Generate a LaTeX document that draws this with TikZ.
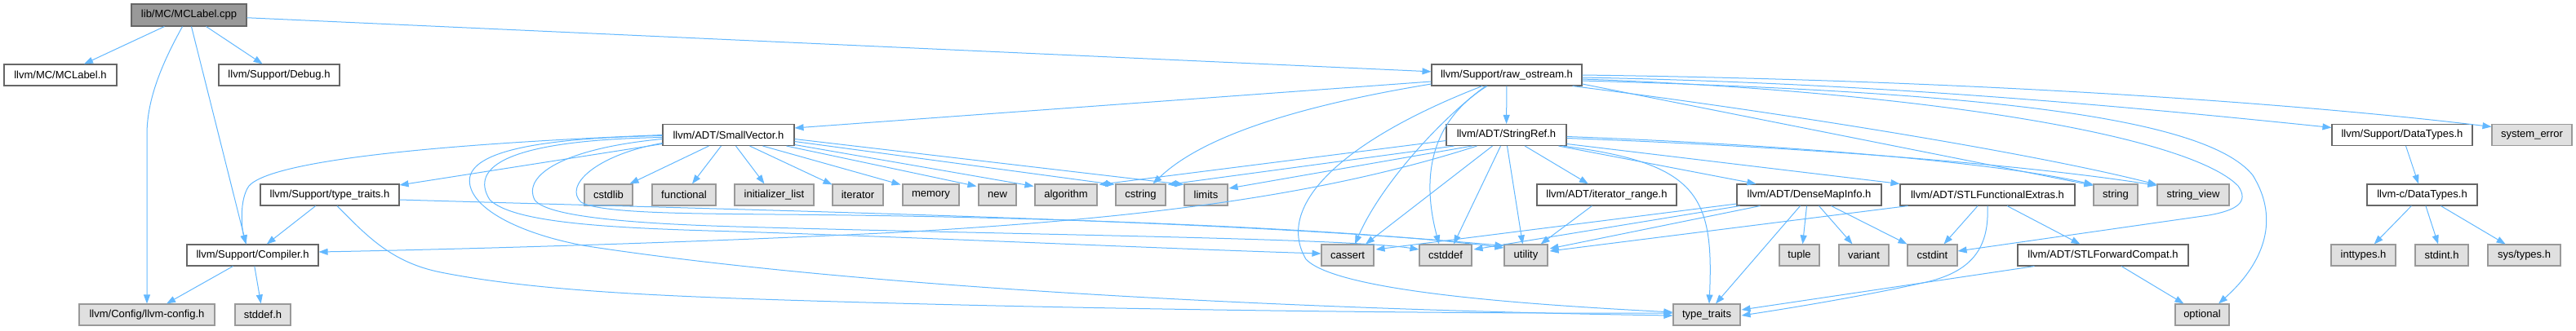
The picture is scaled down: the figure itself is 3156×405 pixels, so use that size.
\documentclass[tikz,border=0pt]{standalone}
\usepackage{fontspec}
\setmainfont{Liberation Sans}
\usetikzlibrary{arrows.meta,calc}
\definecolor{edgec}{HTML}{63B8FF}
\definecolor{bordw}{HTML}{666666}
\definecolor{bordg}{HTML}{999999}
\definecolor{fillg}{HTML}{E0E0E0}
\definecolor{fillc}{HTML}{999999}
\begin{document}
\begin{tikzpicture}[x=1pt,y=-1pt,
  box/.style={draw, line width=1.1pt, minimum height=26pt, inner sep=0pt, font=\fontsize{13}{15}\selectfont, text=black},
  wn/.style={box, draw=bordw, fill=white},
  gn/.style={box, draw=bordg, fill=fillg},
  cn/.style={box, draw=bordw, fill=fillc, minimum height=27pt},
  e/.style={draw=edgec, line width=1pt, -{Triangle[length=11pt,width=8pt]}}]
\useasboundingbox (0,0) rectangle (3156,405);
% row 0
\node[cn, minimum width=141pt] (cpp) at (231.5,18.5) {lib/MC/MCLabel.cpp};
% row 1
\node[wn, minimum width=138pt] (mch) at (74,92) {llvm/MC/MCLabel.h};
\node[wn, minimum width=148pt] (dbg) at (342,92) {llvm/Support/Debug.h};
\node[wn, minimum width=184pt] (raw) at (1846,92) {llvm/Support/raw\_ostream.h};
% row 2
\node[wn, minimum width=161pt] (sv) at (892.5,165.5) {llvm/ADT/SmallVector.h};
\node[wn, minimum width=147pt] (sr) at (1845.5,165.5) {llvm/ADT/StringRef.h};
\node[wn, minimum width=172pt] (dts) at (2943,165.5) {llvm/Support/DataTypes.h};
\node[gn, minimum width=98pt] (syserr) at (3102,165.5) {system\_error};
% row 3
\node[wn, minimum width=170pt] (tts) at (404,239) {llvm/Support/type\_traits.h};
\node[gn, minimum width=59pt] (cstdlib) at (745.5,239) {cstdlib};
\node[gn, minimum width=78pt] (functional) at (838,239) {functional};
\node[gn, minimum width=97pt] (initlist) at (948.5,239) {initializer\_list};
\node[gn, minimum width=62pt] (iterator) at (1051,239) {iterator};
\node[gn, minimum width=69pt] (memory) at (1140.5,239) {memory};
\node[gn, minimum width=46pt] (new) at (1222,239) {new};
\node[gn, minimum width=76pt] (algorithm) at (1306,239) {algorithm};
\node[gn, minimum width=61pt] (cstring) at (1397.5,239) {cstring};
\node[gn, minimum width=53pt] (limits) at (1477.5,239) {limits};
\node[wn, minimum width=171pt] (itr) at (1968.5,239) {llvm/ADT/iterator\_range.h};
\node[wn, minimum width=177pt] (dmi) at (2216.5,239) {llvm/ADT/DenseMapInfo.h};
\node[wn, minimum width=214pt] (stlfe) at (2435,239) {llvm/ADT/STLFunctionalExtras.h};
\node[gn, minimum width=54pt] (string) at (2592,239) {string};
\node[gn, minimum width=88pt] (sview) at (2687,239) {string\_view};
\node[wn, minimum width=135pt] (cdt) at (2967.5,239) {llvm-c/DataTypes.h};
% row 4
\node[wn, minimum width=161pt] (comp) at (309.5,313) {llvm/Support/Compiler.h};
\node[gn, minimum width=64pt] (cassert) at (1651,313) {cassert};
\node[gn, minimum width=64pt] (cstddef) at (1771,313) {cstddef};
\node[gn, minimum width=53pt] (utility) at (1869.5,313) {utility};
\node[gn, minimum width=49pt] (tuple) at (2204.5,313) {tuple};
\node[gn, minimum width=61pt] (variant) at (2283.5,313) {variant};
\node[gn, minimum width=61pt] (cstdint) at (2367.5,313) {cstdint};
\node[wn, minimum width=209pt] (stlfc) at (2576.5,313) {llvm/ADT/STLForwardCompat.h};
\node[gn, minimum width=79pt] (inttypes) at (2895.5,313) {inttypes.h};
\node[gn, minimum width=65pt] (stdint) at (2991.5,313) {stdint.h};
\node[gn, minimum width=89pt] (systypes) at (3092.5,313) {sys/types.h};
% row 5
\node[gn, minimum width=166pt] (cfg) at (180,386) {llvm/Config/llvm-config.h};
\node[gn, minimum width=68pt] (stddef) at (322,386) {stddef.h};
\node[gn, minimum width=82pt] (tt) at (2091,386) {type\_traits};
\node[gn, minimum width=66pt] (optional) at (2698,386) {optional};

% --- edges from lib/MC/MCLabel.cpp
\draw[e] (cpp) -- (mch);
\draw[e] (cpp) -- (dbg);
\draw[e] (cpp) -- (raw);
\draw[e] ($(cpp.south)+(3,0)$) -- ($(comp.north)+(-8,0)$);
\draw[e] ($(cpp.south)+(-8,0)$) .. controls (200,75) and (180,120) .. (180,165) -- (cfg);
% --- Compiler.h
\draw[e] (comp) -- (cfg);
\draw[e] (comp) -- (stddef);
% --- Support/type_traits.h
\draw[e] (tts) -- (comp);
\draw[e] ($(tts.south)+(9,0)$) .. controls (450,290) and (480,322) .. (540,334) .. controls (650,356) and (800,362) .. (902,366) .. controls (1300,380) and (1800,385) .. ($(tt.west)+(0,-2)$);
\draw[e] ($(tts.east)+(0,6)$) .. controls (1000,260) and (1500,270) .. ($(utility.north west)+(0,2)$);
% --- raw_ostream.h
\draw[e] ($(raw.west)+(0,8)$) -- ($(sv.east)+(0,-8.5)$);
\draw[e] ($(raw.west)+(0,11)$) .. controls (1620,125) and (1480,160) .. ($(cstring.north)+(15,0)$);
\draw[e] ($(raw.south)+(-26,0)$) .. controls (1760,150) and (1690,230) .. ($(cassert.north)+(9,0)$);
\draw[e] ($(raw.south)+(-24,0)$) .. controls (1750,150) and (1742,220) .. ($(cstddef.north)+(-8,0)$);
\draw[e] ($(raw.south)+(-30,0)$) .. controls (1650,170) and (1560,250) .. (1600,318) .. controls (1640,360) and (1900,375) .. ($(tt.west)+(0,-3)$);
\draw[e] (raw) -- (sr);
\draw[e] ($(raw.east)+(0,11)$) -- ($(string.north west)+(0,2)$);
\draw[e] ($(raw.south east)+(-12,0)$) .. controls (2200,140) and (2500,190) .. ($(sview.north west)+(0,1)$);
\draw[e] ($(raw.east)+(0,3)$) .. controls (2300,102) and (2600,130) .. ($(dts.west)+(0,-9)$);
\draw[e] (raw.east) .. controls (2400,98) and (2800,125) .. ($(syserr.west)+(0,-10)$);
\draw[e] ($(raw.east)+(0,5)$) .. controls (2350,112) and (2680,165) .. (2742,228) .. controls (2756,248) and (2740,258) .. (2706,264) -- ($(cstdint.east)+(0,-5)$);
\draw[e] ($(raw.east)+(0,7)$) .. controls (2400,112) and (2700,140) .. (2760,215) .. controls (2800,280) and (2760,335) .. ($(optional.north)+(20,0)$);
% --- StringRef.h
\draw[e] ($(sr.south)+(-36,0)$) .. controls (1620,240) and (1400,268) .. (1100,285) .. controls (800,300) and (500,307) .. ($(comp.east)+(0,-4)$);
\draw[e] ($(sr.west)+(0,7)$) -- ($(algorithm.north east)+(2,1)$);
\draw[e] ($(sr.south west)+(10,0)$) -- ($(cstring.north east)+(2,1)$);
\draw[e] ($(sr.south west)+(32,0)$) -- ($(limits.east)+(1,-8)$);
\draw[e] ($(sr.south)+(-17,0)$) -- ($(cassert.north)+(22,0)$);
\draw[e] ($(sr.south)+(-7,0)$) -- ($(cstddef.north)+(10,0)$);
\draw[e] ($(sr.south)+(1,0)$) -- ($(utility.north)+(-4,0)$);
\draw[e] (sr) -- (itr);
\draw[e] ($(sr.south east)+(-10,0)$) -- ($(dmi.north west)+(24,0)$);
\draw[e] ($(sr.east)+(0,11)$) -- (stlfe.north west);
\draw[e] ($(sr.south east)+(-5,0)$) .. controls (2080,200) and (2100,240) .. ($(tt.north)+(3,0)$);
\draw[e] ($(sr.east)+(0,2)$) .. controls (2200,178) and (2450,200) .. ($(string.north west)+(0,1)$);
\draw[e] ($(sr.east)+(0,4)$) .. controls (2250,182) and (2500,205) .. ($(sview.north west)+(0,2)$);
% --- SmallVector.h
\draw[e] ($(sv.south)+(-24,0)$) -- ($(cstdlib.north east)+(-4,0)$);
\draw[e] ($(sv.south)+(-9,0)$) -- ($(functional.north)+(10,0)$);
\draw[e] ($(sv.south)+(9,0)$) -- ($(initlist.north)+(-12,0)$);
\draw[e] ($(sv.south)+(26,0)$) -- ($(iterator.north west)+(0,1)$);
\draw[e] ($(sv.south)+(42,0)$) -- ($(memory.north west)+(-2,1)$);
\draw[e] ($(sv.south east)+(-10,0)$) -- ($(new.north west)+(-2,3)$);
\draw[e] ($(sv.east)+(0,12)$) -- ($(algorithm.north west)+(-1,3)$);
\draw[e] ($(sv.east)+(0,8)$) -- ($(cstring.north west)+(-1,1)$);
\draw[e] ($(sv.east)+(0,5)$) -- ($(limits.north west)+(0,1)$);
\draw[e] ($(sv.west)+(0,11)$) -- ($(tts.east)+(0,-12)$);
\draw[e] (sv.west) .. controls (500,178) and (330,200) .. (305,228) .. controls (293,245) and (296,280) .. ($(comp.north)+(-8,0)$);
\draw[e] ($(sv.west)+(0,1)$) .. controls (620,170) and (568,195) .. (576,228) .. controls (584,262) and (650,290) .. (720,302) .. controls (1100,360) and (1700,382) .. ($(tt.west)+(0,1)$);
\draw[e] ($(sv.west)+(0,3)$) .. controls (620,172) and (575,205) .. (600,245) .. controls (630,275) and (760,280) .. (902,284) .. controls (1150,292) and (1450,306) .. ($(cassert.west)+(0,-2)$);
\draw[e] ($(sv.west)+(0,5)$) .. controls (690,182) and (640,215) .. (655,245) .. controls (670,268) and (800,275) .. (902,278) .. controls (1250,288) and (1650,292) .. ($(cstddef.west)+(0,-7)$);
\draw[e] ($(sv.west)+(0,10)$) .. controls (730,190) and (690,228) .. (712,248) .. controls (735,262) and (850,262) .. (950,263) .. controls (1350,266) and (1700,285) .. ($(utility.west)+(0,-9)$);
% --- iterator_range.h
\draw[e] (itr) -- (utility);
% --- DenseMapInfo.h
\draw[e] ($(dmi.west)+(0,11)$) -- ($(cassert.east)+(2,-7)$);
\draw[e] ($(dmi.south west)+(4,0)$) -- ($(cstddef.east)+(2,-7)$);
\draw[e] ($(dmi.south west)+(29,0)$) -- ($(utility.east)+(2,-8)$);
\draw[e] ($(dmi.south)+(-11,0)$) -- ($(tt.north)+(11,0)$);
\draw[e] ($(dmi.south)+(-3,0)$) -- ($(tuple.north)+(4,0)$);
\draw[e] ($(dmi.south)+(12,0)$) -- ($(variant.north)+(-14,0)$);
\draw[e] ($(dmi.south)+(27,0)$) -- (cstdint.north west);
% --- STLFunctionalExtras.h
\draw[e] ($(stlfe.south west)+(10,0)$) -- ($(utility.east)+(2,-5)$);
\draw[e] ($(stlfe.south)+(-12,0)$) -- ($(cstdint.north)+(14,0)$);
\draw[e] ($(stlfe.south)+(24,0)$) -- ($(stlfc.north)+(-28,0)$);
\draw[e] (stlfe.south) .. controls (2437,300) and (2420,332) .. (2360,346) .. controls (2280,364) and (2180,380) .. ($(tt.east)+(1,1)$);
% --- STLForwardCompat.h
\draw[e] ($(stlfc.south west)+(21,0)$) -- ($(tt.east)+(1,-6)$);
\draw[e] (stlfc) -- (optional);
% --- DataTypes
\draw[e] (dts) -- (cdt);
\draw[e] (cdt) -- (inttypes);
\draw[e] (cdt) -- (stdint);
\draw[e] (cdt) -- (systypes);
\end{tikzpicture}
\end{document}
